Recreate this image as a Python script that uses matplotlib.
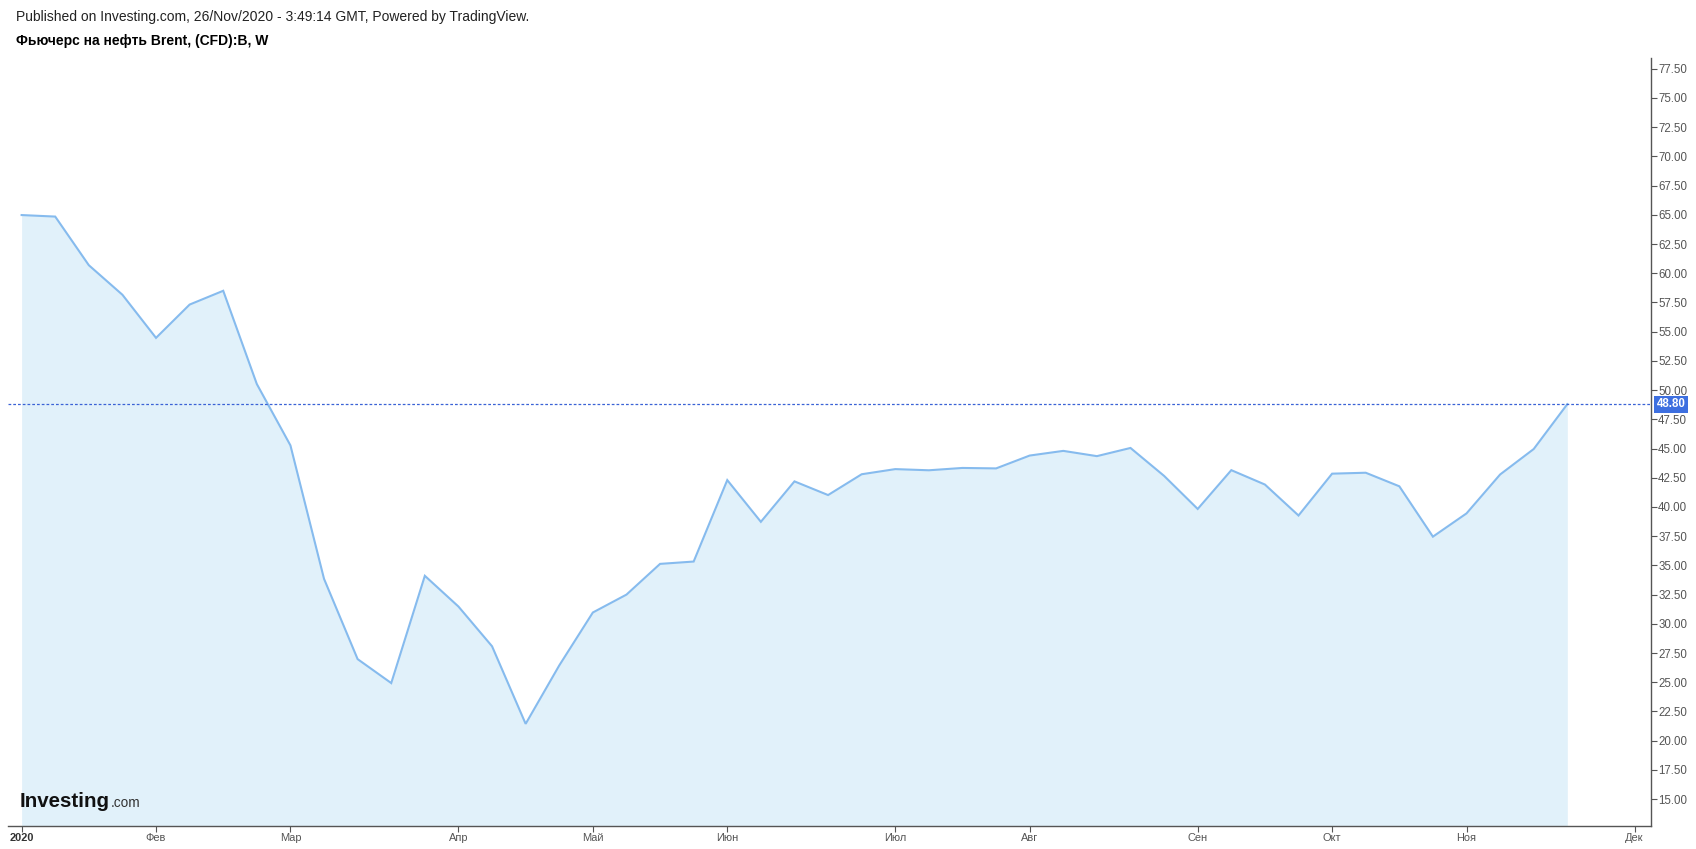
import matplotlib
matplotlib.use("Agg")
import matplotlib.pyplot as plt
import pandas as pd
import numpy as np

plt.rcParams['font.family'] = ['Liberation Sans', 'DejaVu Sans']

# ---- data ----
title_line1 = "Published on Investing.com, 26/Nov/2020 - 3:49:14 GMT, Powered by TradingView."
title_line2 = "Фьючерс на нефть Brent, (CFD):B, W"
first_week = "2020-01-06"
n_weeks_axis = 49
prices = [64.98, 64.85, 60.69, 58.16, 54.47, 57.32, 58.50, 50.52, 45.27, 33.85,
          26.98, 24.93, 34.11, 31.48, 28.08, 21.44, 26.44, 30.97, 32.50, 35.13,
          35.33, 42.30, 38.73, 42.19, 41.02, 42.80, 43.24, 43.14, 43.34, 43.30,
          44.40, 44.80, 44.35, 45.05, 42.66, 39.83, 43.15, 41.92, 39.27, 42.85,
          42.93, 41.77, 37.46, 39.45, 42.78, 44.96, 48.80]
month_labels = ["2020", "Фев", "Мар", "Апр", "Май", "Июн", "Июл", "Авг", "Сен", "Окт", "Ноя", "Дек"]
y_ticks = [15.0, 17.5, 20.0, 22.5, 25.0, 27.5, 30.0, 32.5, 35.0, 37.5, 40.0, 42.5, 45.0,
           47.5, 50.0, 52.5, 55.0, 57.5, 60.0, 62.5, 65.0, 67.5, 70.0, 72.5, 75.0, 77.5]
last_price = 48.80

# ---- layout ----
W, H = 1696, 849
fig = plt.figure(figsize=(W / 100, H / 100), dpi=100)
ax = fig.add_axes([8 / W, 1 - 826 / H, (1651 - 8) / W, (826 - 58) / H])

weeks = pd.date_range(first_week, periods=n_weeks_axis, freq="7D")
x = np.arange(len(prices))
tick_idx = [0] + [i for i in range(1, len(weeks)) if weeks[i].month != weeks[i - 1].month]

ymin, ymax = 12.70, 78.42
line_color = "#86bbee"
fill_color = "#e1f1fa"

ax.fill_between(x, prices, ymin, color=fill_color, lw=0, zorder=1)
ax.plot(x, prices, color=line_color, lw=1.5, zorder=3, solid_joinstyle="miter")
ax.axhline(last_price, color="#3a62d6", lw=0.9, ls=(0, (2.2, 1.6)), zorder=4)

ax.set_xlim(-0.405, 48.49)
ax.set_ylim(ymin, ymax)

for s in ["top", "left"]:
    ax.spines[s].set_visible(False)
for s in ["bottom", "right"]:
    ax.spines[s].set_color("#555555")
    ax.spines[s].set_linewidth(1.0)

ax.yaxis.tick_right()
ax.set_yticks(y_ticks)
ax.set_yticklabels([f"{v:.2f}" for v in y_ticks])
ax.tick_params(axis="y", which="both", direction="out", length=4, width=0.8,
               colors="#555555", labelsize=8.3, pad=1.2, labelcolor="#555555")
ax.set_xticks(tick_idx)
ax.set_xticklabels(month_labels[:len(tick_idx)])
ax.tick_params(axis="x", direction="out", length=4, width=0.8, colors="#555555",
               labelsize=7.9, pad=0.8, labelcolor="#555555")
year_lbl = ax.get_xticklabels()[0]
year_lbl.set_fontweight("bold")
year_lbl.set_color("#333333")

# last price label
ax.text(1.0035, last_price, f"{last_price:.2f}", transform=ax.get_yaxis_transform(),
        ha="left", va="center", color="white", fontsize=8.3, fontweight="bold",
        bbox=dict(boxstyle="square,pad=0.22", fc="#3d6fe0", ec="none"), zorder=10,
        clip_on=False)

# titles
fig.text(16 / W, 1 - 17.5 / H, title_line1, ha="left", va="center", fontsize=10, color="#222222")
fig.text(16 / W, 1 - 41 / H, title_line2, ha="left", va="center", fontsize=10,
         fontweight="bold", color="#000000")

# logo
t1 = fig.text(20 / W, 1 - 807 / H, "Investing", ha="left", va="baseline", fontsize=14.8,
              fontweight="bold", color="#111111")
fig.canvas.draw()
bb = t1.get_window_extent()
fig.text((bb.x1 + 0.5) / W, 1 - 807 / H, ".com", ha="left", va="baseline", fontsize=9.8,
         color="#333333")

fig.savefig("out.png", dpi=100, facecolor="white")
